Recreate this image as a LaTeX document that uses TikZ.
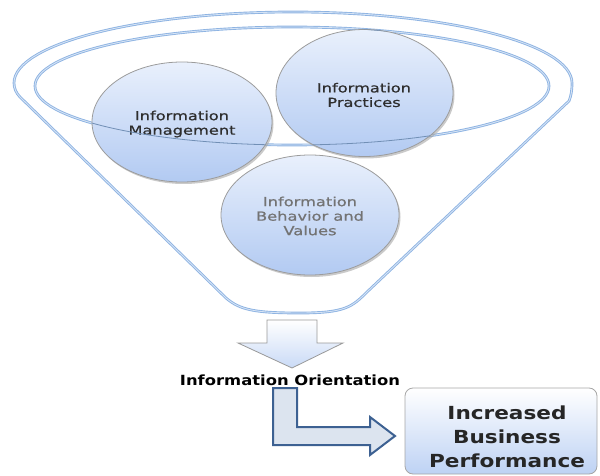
\documentclass[tikz,border=0pt]{standalone}
\usepackage{fontspec}
\usetikzlibrary{shapes.geometric,shadows}
\newfontfamily\circfont[FakeStretch=1.3,FakeBold=0.8]{DejaVu Sans}
\newfontfamily\boxfont[FakeStretch=1.2]{DejaVu Sans}
\newfontfamily\orifont[FakeStretch=1.17]{DejaVu Sans}
\definecolor{funnelblue}{HTML}{8DB3E2}
\definecolor{funnelin}{HTML}{D5E3F5}
\definecolor{circtop}{HTML}{E9F0FC}
\definecolor{circbot}{HTML}{B2CAF2}
\definecolor{circedge}{HTML}{9C9C9C}
\definecolor{arrowedge}{HTML}{3D6192}
\definecolor{arrowfill}{HTML}{DCE4EF}
\tikzset{
  funnelline/.style={draw=funnelblue, line width=0.9pt, double=funnelin, double distance=0.9pt},
  circ/.style={ellipse, draw=circedge, line width=0.8pt, top color=circtop, bottom color=circbot,
    align=center, inner sep=0pt,
    drop shadow={shadow xshift=1.5pt, shadow yshift=-2pt, fill=black!35, opacity=0.6}},
  circtext/.style={font=\circfont\fontsize{12.5}{14.5}\selectfont, text=black!82},
  frontline/.style={draw=funnelblue!80!black, line width=0.8pt},
}
\begin{document}
\begin{tikzpicture}[x=1pt,y=-1pt]
\useasboundingbox (0,0) rectangle (600,476);
% funnel outline
\draw[funnelline] (14,83) arc[start angle=180, end angle=360, x radius=279, y radius=71]
  .. controls (572,91) and (571,96) .. (569,101) -- (367,292)
  .. controls (352,307) and (345,313) .. (300,313)
  .. controls (255,313) and (240,310) .. (226,298) -- (20,97)
  .. controls (16,93) and (14,88) .. (14,83) -- cycle;
% inner rim
\draw[funnelline] (292,86) ellipse [x radius=257, y radius=59];
% circles
\node[circ, minimum width=178pt, minimum height=120pt] (beh) at (310,215) {};
\node[circ, minimum width=180pt, minimum height=120pt] (man) at (182,122) {};
\node[circ, minimum width=177pt, minimum height=127pt] (pra) at (364.5,93) {};
\node[circtext, align=center] (manT) at (182,124) {Information\\Management};
\node[circtext, align=center] (praT) at (364,95) {Information\\Practices};
\node[circtext, align=center, text=black!55] (behT) at (310,216) {Information\\Behavior and\\Values};
% front part of the inner rim, over the circles
\begin{scope}
\clip (182,122) ellipse [x radius=90, y radius=60];
\draw[frontline] (292,86) ellipse [x radius=257, y radius=59];
\end{scope}
\begin{scope}
\clip (364.5,93) ellipse [x radius=88.5, y radius=63.5];
\draw[frontline] (292,86) ellipse [x radius=257, y radius=59];
\end{scope}
% down arrow
\draw[draw=black!40, line width=0.8pt, top color=white, bottom color=circbot!70]
  (267,320) -- (317,320) -- (317,343) -- (343,343) -- (292,368) -- (238,343) -- (267,343) -- cycle;
\node[font=\orifont\bfseries\fontsize{14}{16}\selectfont, inner sep=0pt] (ori) at (290,380) {Information Orientation};
% bent arrow
\draw[draw=arrowedge, line width=2pt, fill=arrowfill, line join=miter]
  (273,388) -- (297,388) -- (297,427) -- (370,427) -- (370,417) -- (395,436) -- (370,455) -- (370,445) -- (273,445) -- cycle;
% result box
\node[draw=black!35, line width=0.8pt, rounded corners=8pt, top color=white, bottom color=circbot!85,
  minimum width=192pt, minimum height=86pt, inner sep=0pt] (box) at (501,431) {};
\node[font=\boxfont\bfseries\fontsize{18}{24}\selectfont, align=center, inner sep=0pt, text=black!85] (boxT) at (507,437)
  {Increased\\Business\\Performance};
\end{tikzpicture}
\end{document}
